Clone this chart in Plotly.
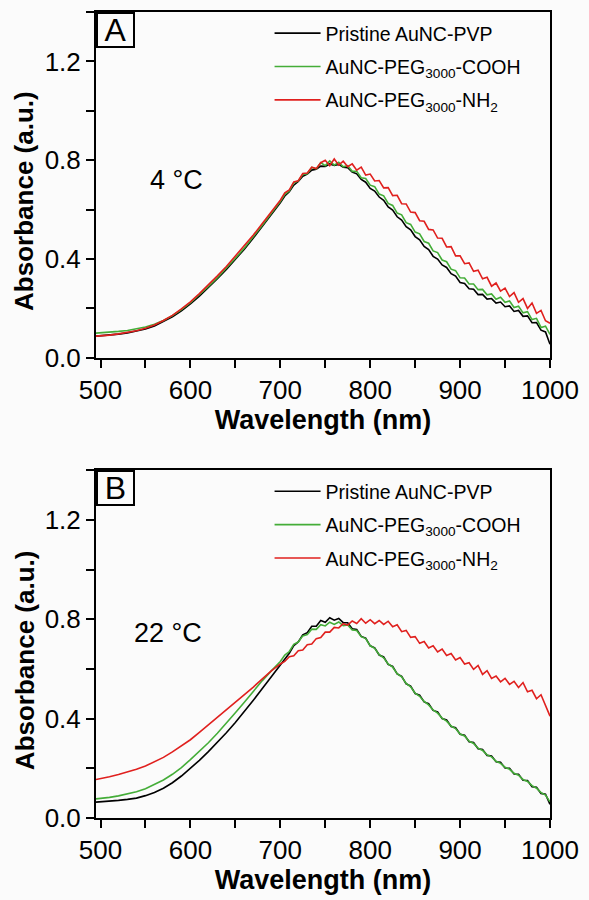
import plotly.graph_objects as go
from plotly.subplots import make_subplots

# ---------------- data ----------------
wavelength = [495, 500, 510, 520, 530, 540, 550, 560, 570, 580, 590, 600, 610, 620, 630, 640, 650, 660, 670, 680, 690,
              700, 705, 710, 715, 720, 725, 730, 735, 740, 745, 750, 755, 760, 765, 770, 775, 780, 785, 790, 795,
              800, 805, 810, 815, 820, 825, 830, 835, 840, 845, 850, 855, 860, 865, 870, 875, 880, 885, 890, 895,
              900, 905, 910, 915, 920, 925, 930, 935, 940, 945, 950, 955, 960, 965, 970, 975, 980, 985, 990, 995, 1000]

# Panel A (4 °C)
a_pvp = [.088, .089, .092, .096, .101, .108, .117, .129, .146, .166, .190, .218, .250, .284, .320, .358, .398, .440, .485, .532, .580,
         .628, .655, .672, .699, .714, .735, .744, .760, .763, .776, .775, .785, .779, .783, .772, .770, .752, .745, .722, .711,
         .686, .675, .651, .638, .611, .598, .571, .558, .531, .518, .491, .478, .451, .438, .411, .400, .376, .366, .341, .331,
         .305, .301, .280, .278, .256, .257, .238, .240, .222, .226, .207, .210, .188, .192, .168, .170, .142, .143, .112, .105, .055]
a_cooh = [.100, .101, .104, .107, .111, .117, .125, .136, .151, .171, .195, .223, .255, .289, .325, .363, .403, .445, .490, .537, .585,
          .633, .662, .676, .708, .716, .742, .745, .771, .765, .790, .778, .797, .780, .792, .773, .778, .755, .755, .729, .726,
          .699, .693, .663, .656, .625, .617, .586, .579, .547, .540, .509, .502, .471, .464, .433, .426, .396, .389, .359, .353,
          .324, .323, .299, .299, .276, .277, .255, .259, .237, .245, .225, .230, .204, .209, .182, .187, .155, .160, .123, .128, .095]
a_nh2 = [.088, .089, .092, .097, .103, .110, .120, .133, .151, .172, .198, .227, .260, .295, .332, .370, .411, .453, .497, .544, .592,
         .638, .668, .680, .712, .717, .746, .748, .772, .766, .790, .800, .778, .805, .780, .796, .774, .785, .760, .772, .740,
         .744, .716, .718, .688, .689, .657, .658, .624, .623, .590, .588, .555, .553, .520, .518, .485, .484, .449, .450, .413,
         .413, .381, .384, .350, .355, .320, .326, .290, .303, .270, .282, .248, .264, .225, .240, .200, .222, .180, .192, .150, .140]

# Panel B (22 °C)
b_pvp = [.064, .065, .068, .071, .075, .080, .090, .103, .120, .142, .169, .200, .232, .267, .304, .343, .384, .428, .474, .521, .568,
         .614, .642, .663, .694, .709, .737, .746, .772, .772, .795, .788, .806, .796, .803, .786, .786, .762, .759, .731, .724,
         .693, .685, .656, .648, .618, .610, .580, .570, .540, .531, .501, .494, .467, .460, .433, .427, .400, .395, .368, .363,
         .337, .333, .307, .304, .279, .276, .252, .250, .226, .224, .201, .200, .177, .176, .152, .151, .126, .124, .099, .096, .055]
b_cooh = [.077, .078, .083, .089, .096, .106, .118, .134, .153, .176, .203, .235, .268, .303, .341, .381, .424, .466, .510, .553, .592,
          .630, .656, .670, .699, .708, .733, .738, .760, .759, .778, .773, .788, .779, .789, .774, .777, .757, .755, .730, .722,
          .693, .683, .657, .645, .620, .607, .581, .568, .542, .528, .502, .490, .469, .455, .435, .422, .402, .390, .370, .360,
          .338, .330, .309, .300, .281, .272, .254, .246, .228, .220, .204, .196, .180, .172, .155, .147, .130, .120, .102, .092, .065]
b_nh2 = [.155, .158, .166, .175, .185, .196, .209, .225, .244, .266, .290, .315, .345, .375, .405, .434, .464, .495, .527, .560, .592,
         .620, .630, .649, .653, .673, .676, .697, .700, .722, .726, .748, .748, .767, .765, .782, .776, .793, .783, .802, .784,
         .798, .782, .795, .779, .792, .770, .778, .750, .755, .727, .730, .703, .710, .684, .693, .668, .680, .654, .662, .636,
         .646, .620, .625, .598, .614, .578, .593, .562, .571, .548, .562, .538, .550, .525, .545, .508, .514, .480, .496, .452, .410]

series_names = ["Pristine AuNC-PVP", "AuNC-PEG<sub>3000</sub>-COOH", "AuNC-PEG<sub>3000</sub>-NH<sub>2</sub>"]
series_colors = ["#000000", "#44ad38", "#e0201e"]
panel_labels = ["A", "B"]
temp_labels = ["4 \u00b0C", "22 \u00b0C"]
temp_pos = [(584, 0.72), (575, 0.745)]
x_ticks = [500, 600, 700, 800, 900, 1000]
y_ticks = [0.0, 0.4, 0.8, 1.2]
x_title = "<b>Wavelength (nm)</b>"
y_title = "<b>Absorbance (a.u.)</b>"

panels = [[a_pvp, a_cooh, a_nh2], [b_pvp, b_cooh, b_nh2]]

# ---------------- figure ----------------
W, H = 589, 900
mt, mb, ml, mr = 10, 79, 96, 30
ph = H - mt - mb
pw = W - ml - mr
a_top, a_bot = 10, 358
b_top, b_bot = 471, 821
domA = [(H - mb - a_bot) / ph, (H - mb - a_top) / ph]
domB = [0, (H - mb - b_top) / ph]

fig = make_subplots(rows=2, cols=1)

legend_names = ["legend", "legend2"]
for p, vals in enumerate(panels):
    for i, ys in enumerate(vals):
        fig.add_trace(go.Scatter(
            x=wavelength, y=ys, mode="lines", name=series_names[i],
            line=dict(color=series_colors[i], width=1.6),
            legend=legend_names[p], legendgroup=f"p{p}s{i}",
        ), row=p + 1, col=1)

FONT = "Liberation Sans, Arial"
axis_common = dict(
    showline=True, linecolor="black", linewidth=2, mirror=True,
    ticks="outside", ticklen=8, tickwidth=1.5, tickcolor="black",
    showgrid=False, zeroline=False,
    tickfont=dict(family=FONT, size=26, color="black"),
)

for r in (1, 2):
    fig.update_xaxes(
        range=[495, 1000], tickvals=x_ticks,
        minor=dict(ticks="outside", ticklen=8, tickwidth=1.5, tickcolor="black", dtick=50, tick0=500),
        title=dict(text=x_title, font=dict(family=FONT, size=27, color="black"), standoff=6),
        **axis_common, row=r, col=1)
    fig.update_yaxes(
        range=[0, 1.4], tickvals=y_ticks, tickformat=".1f",
        minor=dict(ticks="outside", ticklen=8, tickwidth=1.5, tickcolor="black", dtick=0.2, tick0=0),
        **axis_common, row=r, col=1)

fig.update_layout(
    xaxis=dict(domain=[0, 1], anchor="y"), yaxis=dict(domain=domA, anchor="x"),
    xaxis2=dict(domain=[0, 1], anchor="y2"), yaxis2=dict(domain=domB, anchor="x2"),
)

leg_common = dict(
    font=dict(family=FONT, size=19.5, color="black"),
    bgcolor="rgba(0,0,0,0)", borderwidth=0, tracegroupgap=5, itemwidth=46,
    xanchor="left", yanchor="top", traceorder="grouped",
)
fig.update_layout(
    legend=dict(x=(273 - ml) / pw, y=1 - (12 - mt) / ph, **leg_common),
    legend2=dict(x=(273 - ml) / pw, y=1 - (473 - mt) / ph, **leg_common),
)

for p, (xr, yr) in enumerate([("x", "y"), ("x2", "y2")]):
    fig.add_annotation(
        xref=f"{xr} domain", yref=f"{yr} domain", x=0, y=1, xanchor="left", yanchor="top",
        text=panel_labels[p], showarrow=False, width=35, height=32, borderpad=0,
        bordercolor="black", borderwidth=2, align="center",
        font=dict(family=FONT, size=32, color="black"),
    )
    tx, ty = temp_pos[p]
    fig.add_annotation(
        xref=xr, yref=yr, x=tx, y=ty, text=temp_labels[p], showarrow=False,
        font=dict(family=FONT, size=27, color="black"),
    )
    # y-axis title (placed slightly below the panel centre as in the reference)
    fig.add_annotation(
        xref="paper", yref=f"{yr} domain", x=(23 - ml) / pw, y=0.455,
        xanchor="center", yanchor="middle", textangle=-90,
        text=y_title, showarrow=False,
        font=dict(family=FONT, size=26, color="black"),
    )

fig.update_layout(
    width=W, height=H, margin=dict(l=ml, r=mr, t=mt, b=mb),
    paper_bgcolor="#fbfbfb", plot_bgcolor="#fbfbfb",
    showlegend=True,
)

fig.write_html("out.html", config={"displayModeBar": False},
               post_script="document.body.style.margin='0';document.body.style.overflow='hidden';")
